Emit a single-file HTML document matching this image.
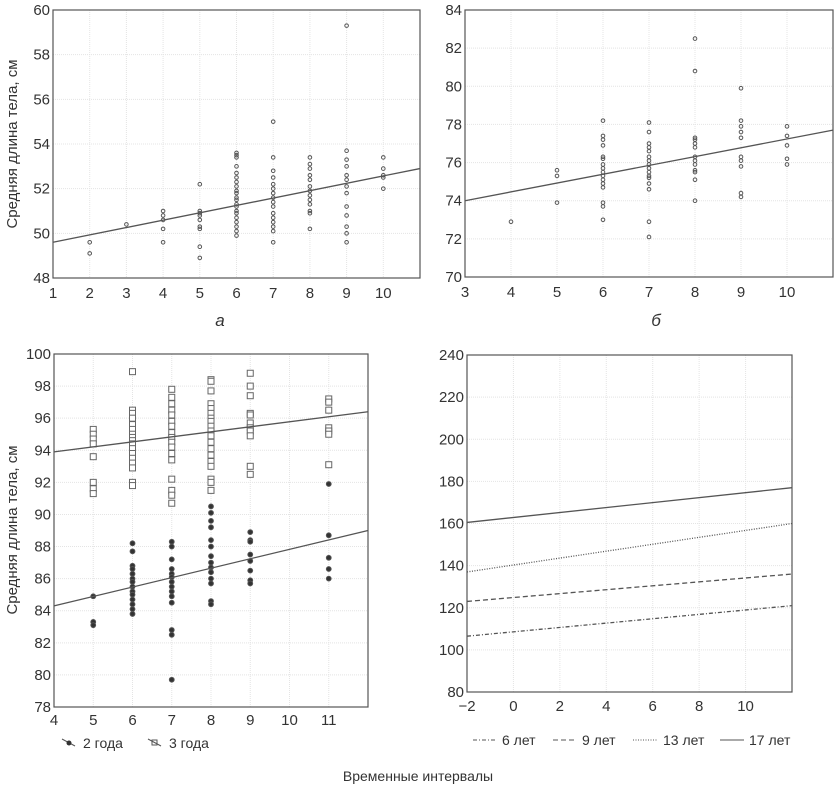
<!DOCTYPE html>
<html><head><meta charset="utf-8"><style>
body{margin:0;background:#fff;}
svg{display:block;font-family:"Liberation Sans",sans-serif;}
</style></head><body>
<svg id="chart" width="837" height="787" viewBox="0 0 837 787" xmlns="http://www.w3.org/2000/svg">
<text transform="translate(17,144) rotate(-90)" text-anchor="middle" font-size="15" fill="#333">Средняя длина тела, см</text>
<text transform="translate(17,530) rotate(-90)" text-anchor="middle" font-size="15" fill="#333">Средняя длина тела, см</text>
<text x="220" y="326" font-size="17" font-style="italic" fill="#333" text-anchor="middle">а</text>
<text x="656" y="326" font-size="17" font-style="italic" fill="#333" text-anchor="middle">б</text>
<text x="418" y="781" font-size="14" fill="#333" text-anchor="middle">Временные интервалы</text>
<g>
  <line x1="62" y1="739" x2="75" y2="746" stroke="#555" stroke-width="1"/>
  <circle cx="69" cy="743" r="2.5" fill="#333"/>
  <text x="83" y="748" font-size="14" fill="#333">2 года</text>
  <line x1="148" y1="739" x2="161" y2="746" stroke="#555" stroke-width="1"/>
  <rect x="152" y="740" width="5" height="5" fill="none" stroke="#555"/>
  <text x="169" y="748" font-size="14" fill="#333">3 года</text>
</g>
<g>
  <line x1="473" y1="740" x2="496" y2="740" stroke="#555" stroke-dasharray="4,2,1,2"/>
  <text x="502" y="745" font-size="14" fill="#333">6 лет</text>
  <line x1="553" y1="740" x2="576" y2="740" stroke="#555" stroke-dasharray="5,3"/>
  <text x="582" y="745" font-size="14" fill="#333">9 лет</text>
  <line x1="633" y1="740" x2="657" y2="740" stroke="#555" stroke-dasharray="1,1.5"/>
  <text x="663" y="745" font-size="14" fill="#333">13 лет</text>
  <line x1="720" y1="740" x2="744" y2="740" stroke="#555"/>
  <text x="749" y="745" font-size="14" fill="#333">17 лет</text>
</g>
</svg>
<script>
// Panel a data
const aX = [2,2,3,4,4,4,4,4,5,5,5,5,5,5,5,5,5,
 6,6,6,6,6,6,6,6,6,6,6,6,6,6,6,6,6,6,6,6,6,
 7,7,7,7,7,7,7,7,7,7,7,7,7,7,7,7,
 8,8,8,8,8,8,8,8,8,8,8,8,8,
 9,9,9,9,9,9,9,9,9,9,9,9,9,
 10,10,10,10,10];
const aY = [49.6,49.1,50.4,51.0,50.8,50.6,50.2,49.6,52.2,51.0,50.9,50.8,50.6,50.3,50.2,49.4,48.9,
 53.6,53.5,53.4,53.0,52.7,52.5,52.3,52.1,51.9,51.8,51.6,51.5,51.3,51.2,51.0,50.9,50.7,50.5,50.3,50.1,49.9,
 55.0,53.4,52.8,52.5,52.2,52.0,51.8,51.6,51.4,51.2,50.9,50.7,50.5,50.3,50.1,49.6,
 53.4,53.1,52.9,52.6,52.4,52.1,51.9,51.7,51.5,51.3,51.0,50.9,50.2,
 59.3,53.7,53.3,53.0,52.6,52.4,52.1,51.8,51.2,50.8,50.3,50.0,49.6,
 53.4,52.9,52.6,52.5,52.0];
const aFitX = [1,11];
const aFitY = [49.6,52.9];
const aXTicks = [1,2,3,4,5,6,7,8,9,10];
const aYTicks = [48,50,52,54,56,58,60];

// Panel b data
const bX = [4,5,5,5,
 6,6,6,6,6,6,6,6,6,6,6,6,6,6,6,6,
 7,7,7,7,7,7,7,7,7,7,7,7,7,7,7,7,
 8,8,8,8,8,8,8,8,8,8,8,8,8,
 9,9,9,9,9,9,9,9,9,9,
 10,10,10,10,10];
const bY = [72.9,75.6,75.3,73.9,
 78.2,77.4,77.2,76.9,76.3,76.2,75.9,75.7,75.5,75.3,75.1,74.9,74.7,73.9,73.7,73.0,
 78.1,77.6,77.0,76.8,76.6,76.3,76.1,75.9,75.7,75.5,75.3,75.2,74.9,74.6,72.9,72.1,
 82.5,80.8,77.3,77.2,77.0,76.8,76.3,76.1,75.9,75.6,75.5,75.1,74.0,
 79.9,78.2,77.9,77.6,77.3,76.3,76.1,75.8,74.4,74.2,
 77.9,77.4,76.9,76.2,75.9];
const bFitX = [3,11];
const bFitY = [74.0,77.7];
const bXTicks = [3,4,5,6,7,8,9,10];
const bYTicks = [70,72,74,76,78,80,82,84];

// Panel c data: 3 years (squares)
const c3X = [5,5,5,5,5,5,5,5,
 6,6,6,6,6,6,6,6,6,6,6,6,6,6,6,6,6,
 7,7,7,7,7,7,7,7,7,7,7,7,7,7,7,7,7,
 8,8,8,8,8,8,8,8,8,8,8,8,8,8,8,8,8,8,8,
 9,9,9,9,9,9,9,9,9,9,9,
 11,11,11,11,11,11,11];
const c3Y = [95.3,95.0,94.7,94.4,93.6,92.0,91.6,91.3,
 98.9,96.5,96.3,96.0,95.6,95.3,95.0,94.8,94.6,94.4,94.1,93.8,93.5,93.2,92.9,92.0,91.8,
 97.8,97.3,96.9,96.5,96.2,95.8,95.5,95.1,94.8,94.5,94.2,93.8,93.4,92.2,91.5,91.2,90.7,
 98.4,98.3,97.7,96.9,96.6,96.3,96.0,95.8,95.5,95.2,94.9,94.5,94.1,93.7,93.3,93.0,92.2,92.0,91.5,
 98.8,98.0,97.4,96.3,96.2,95.7,95.4,95.2,94.9,93.0,92.5,
 97.2,97.0,96.5,95.4,95.2,95.0,93.1];
// 2 years (filled circles)
const c2X = [5,5,5,
 6,6,6,6,6,6,6,6,6,6,6,6,6,6,
 7,7,7,7,7,7,7,7,7,7,7,7,7,7,
 8,8,8,8,8,8,8,8,8,8,8,8,8,8,
 9,9,9,9,9,9,9,9,
 11,11,11,11,11];
const c2Y = [84.9,83.3,83.1,
 88.2,87.7,86.8,86.6,86.3,86.0,85.8,85.5,85.2,85.0,84.7,84.4,84.1,83.8,
 88.3,88.0,87.2,86.6,86.3,86.1,85.8,85.5,85.2,84.9,84.5,82.8,82.5,79.7,
 90.5,90.1,89.6,89.2,88.4,88.0,87.4,87.0,86.7,86.4,86.0,85.7,84.6,84.4,
 88.9,88.4,88.3,87.5,87.1,86.5,85.9,85.7,
 91.9,88.7,87.3,86.6,86.0];
const cFitX = [4,12];
const cFit3Y = [93.9,96.4];
const cFit2Y = [84.3,89.0];
const cXTicks = [4,5,6,7,8,9,10,11];
const cYTicks = [78,80,82,84,86,88,90,92,94,96,98,100];

// Panel d data
const dX = [-2,12];
const d6Y = [106.5,121];
const d9Y = [123,136];
const d13Y = [137,160];
const d17Y = [160.5,177];
const dXTicks = [-2,0,2,4,6,8,10];
const dYTicks = [80,100,120,140,160,180,200,220,240];

const NS = 'http://www.w3.org/2000/svg';
const svg = document.getElementById('chart');
function mk(tag, attrs, parent){
  const e = document.createElementNS(NS, tag);
  for (const k in attrs) e.setAttribute(k, attrs[k]);
  (parent||svg).appendChild(e);
  return e;
}
function makeAxes(name, L, R, T, B, xmin, xmax, ymin, ymax, xt, yt, xLabY){
  const g = mk('g', {});
  
  
  const sx = v => L + (v - xmin) / (xmax - xmin) * (R - L);
  const sy = v => B - (v - ymin) / (ymax - ymin) * (B - T);
  xt.forEach(v => {
    const gl = mk('line', {x1:sx(v), x2:sx(v), y1:T, y2:B, stroke:'#e4e4e4', 'stroke-width':1, 'stroke-dasharray':'1,1'}, g);
    
    
    const t = mk('text', {x:sx(v), y:xLabY, 'font-size':15, fill:'#333', 'text-anchor':'middle'}, g);
    
    
    t.textContent = v < 0 ? '\u2212' + Math.abs(v) : String(v);
  });
  yt.forEach(v => {
    const gl = mk('line', {x1:L, x2:R, y1:sy(v), y2:sy(v), stroke:'#e4e4e4', 'stroke-width':1, 'stroke-dasharray':'1,1'}, g);
    
    
    const t = mk('text', {x:L - 3, y:sy(v) + 5, 'font-size':15, fill:'#333', 'text-anchor':'end'}, g);
    
    
    t.textContent = String(v);
  });
  const box = mk('rect', {x:L, y:T, width:R - L, height:B - T, fill:'none', stroke:'#555', 'stroke-width':1.2}, g);
  
  
  return {g, sx, sy};
}
function line(ax, xs, ys, name, dash){
  const l = mk('line', {x1:ax.sx(xs[0]), y1:ax.sy(ys[0]), x2:ax.sx(xs[1]), y2:ax.sy(ys[1]), stroke:'#555', 'stroke-width':1.3}, ax.g);
  if (dash) l.setAttribute('stroke-dasharray', dash);
  
  
}
function circles(ax, xs, ys, name, r, fill){
  xs.forEach((x, i) => {
    const c = mk('circle', {cx:ax.sx(x), cy:ax.sy(ys[i]), r:r, fill:fill, stroke:'#555', 'stroke-width':1}, ax.g);
    
    
  });
}
function squares(ax, xs, ys, name){
  xs.forEach((x, i) => {
    const s = mk('rect', {x:ax.sx(x) - 3, y:ax.sy(ys[i]) - 3, width:6, height:6, fill:'#fff', stroke:'#666', 'stroke-width':1}, ax.g);
    
    
  });
}

const A = makeAxes('panel-a', 53, 420, 10, 278, 1, 11, 48, 60, aXTicks, aYTicks, 298);
circles(A, aX, aY, 'point-a', 1.8, 'none');
line(A, aFitX, aFitY, 'trend-line-a');

const Bp = makeAxes('panel-b', 465, 833, 10, 277, 3, 11, 70, 84, bXTicks, bYTicks, 297);
circles(Bp, bX, bY, 'point-b', 1.8, 'none');
line(Bp, bFitX, bFitY, 'trend-line-b');

const C = makeAxes('panel-c', 54, 368, 354, 707, 4, 12, 78, 100, cXTicks, cYTicks, 725);
squares(C, c3X, c3Y, 'point-3-years');
circles(C, c2X, c2Y, 'point-2-years', 2.4, '#333');
line(C, cFitX, cFit3Y, 'trend-line-3-years');
line(C, cFitX, cFit2Y, 'trend-line-2-years');

const D = makeAxes('panel-d', 467, 792, 355, 692, -2, 12, 80, 240, dXTicks, dYTicks, 711);
line(D, dX, d6Y, 'line-6-years', '4,2,1,2');
line(D, dX, d9Y, 'line-9-years', '5,3');
line(D, dX, d13Y, 'line-13-years', '1,1.5');
line(D, dX, d17Y, 'line-17-years');
</script>
</body></html>
